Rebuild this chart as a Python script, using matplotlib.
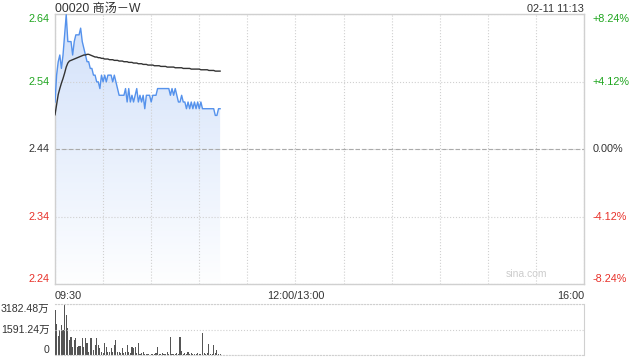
import numpy as np
import matplotlib
matplotlib.use('Agg')
import matplotlib.pyplot as plt

plt.rcParams['font.family'] = ['Liberation Sans', 'Noto Sans CJK SC', 'DejaVu Sans']

# intraday data, one point per minute from 09:30
prev_close = 2.44
price = [2.51, 2.55, 2.57, 2.58, 2.56, 2.58, 2.61, 2.64, 2.60, 2.60,
         2.60, 2.58, 2.60, 2.61, 2.61, 2.61, 2.62, 2.60, 2.59, 2.58,
         2.57, 2.57, 2.56, 2.56, 2.55, 2.55, 2.54, 2.54, 2.53, 2.55,
         2.54, 2.55, 2.54, 2.55, 2.55, 2.55, 2.54, 2.55, 2.54, 2.53,
         2.52, 2.52, 2.52, 2.52, 2.53, 2.51, 2.53, 2.51, 2.52, 2.51,
         2.52, 2.53, 2.51, 2.52, 2.51, 2.52, 2.50, 2.52, 2.52, 2.52,
         2.51, 2.52, 2.52, 2.52, 2.53, 2.53, 2.53, 2.53, 2.53, 2.53,
         2.53, 2.53, 2.52, 2.53, 2.52, 2.53, 2.52, 2.51, 2.51, 2.52,
         2.51, 2.51, 2.50, 2.51, 2.50, 2.51, 2.50, 2.51, 2.50, 2.51,
         2.50, 2.51, 2.50, 2.50, 2.50, 2.50, 2.50, 2.50, 2.50, 2.50,
         2.49, 2.49, 2.50, 2.50]
avg_price = [2.491, 2.506, 2.521, 2.530, 2.538, 2.545, 2.553, 2.562, 2.568, 2.571,
             2.572, 2.573, 2.574, 2.575, 2.576, 2.577, 2.578, 2.579, 2.580, 2.580,
             2.581, 2.581, 2.580, 2.579, 2.578, 2.577, 2.577, 2.576, 2.576, 2.575,
             2.575, 2.574, 2.574, 2.574, 2.573, 2.573, 2.573, 2.572, 2.572, 2.572,
             2.571, 2.571, 2.571, 2.570, 2.570, 2.570, 2.569, 2.569, 2.569, 2.568,
             2.568, 2.568, 2.567, 2.567, 2.567, 2.566, 2.566, 2.566, 2.565, 2.565,
             2.565, 2.565, 2.564, 2.564, 2.564, 2.564, 2.563, 2.563, 2.563, 2.563,
             2.562, 2.562, 2.562, 2.562, 2.562, 2.561, 2.561, 2.561, 2.561, 2.561,
             2.560, 2.560, 2.560, 2.560, 2.560, 2.559, 2.559, 2.559, 2.559, 2.559,
             2.559, 2.558, 2.558, 2.558, 2.558, 2.558, 2.557, 2.557, 2.557, 2.557,
             2.556, 2.556, 2.556, 2.556]
# volume in 万
volume = [2830, 1950, 1200, 1570, 1880, 1570, 3182.48, 2510, 1690, 940,
          1130, 500, 940, 1070, 500, 570, 570, 1070, 500, 1070,
          750, 190, 1070, 1070, 310, 630, 1070, 630, 440, 190,
          130, 750, 500, 190, 190, 440, 190, 630, 940, 190,
          190, 130, 440, 130, 160, 630, 190, 130, 500, 440,
          500, 130, 750, 60, 100, 200, 60, 40, 60, 30,
          60, 90, 60, 120, 520, 60, 40, 100, 60, 40,
          160, 60, 1150, 80, 60, 40, 100, 60, 1150, 250,
          60, 120, 80, 160, 60, 120, 60, 80, 60, 120,
          60, 80, 1360, 120, 60, 100, 700, 80, 60, 630,
          120, 320, 80, 60]
pct_levels = [8.24, 4.12, 0.0, -4.12, -8.24]
time_labels = ['09:30', '', '', '', '', '12:00/13:00', '', '', '', '', '', '16:00']
vol_max = 3182.48

title = '00020 商汤－W'
stamp = '02-11 11:13'

GREEN = '#1fa51f'
RED = '#e8312a'
GRID = '#d0d0d0'
TXT = '#333333'
FS = 7.8

minutes = np.arange(len(price))
levels = [prev_close * (1 + p / 100) for p in pct_levels]
ylo, yhi = levels[-1], levels[0]

fig = plt.figure(figsize=(6.4, 3.6), dpi=100)
ax = fig.add_axes([55 / 640, 76 / 360, 529 / 640, 270 / 360])

# gradient fill under price line
fill = ax.fill_between(minutes, price, ylo, facecolor='none', edgecolor='none')
top_c = np.array([0.82, 0.88, 0.98])
bot_c = np.array([0.995, 0.997, 1.0])
t = np.linspace(0, 1, 256)[:, None]
grad = (bot_c * (1 - t) + top_c * t)[:, None, :]
img = ax.imshow(grad, extent=[0, minutes[-1], ylo, max(price)], aspect='auto',
                origin='lower', zorder=1, interpolation='bilinear')
img.set_clip_path(fill.get_paths()[0], ax.transData)

ax.plot(minutes, price, color='#5592ec', lw=1, zorder=3)
ax.plot(minutes, avg_price, color='#333333', lw=1, zorder=3)

ax.set_xlim(0, 330)
ax.set_ylim(ylo, yhi)
ax.set_xticks(np.arange(0, 331, 30))
ax.set_xticklabels(time_labels, fontsize=FS, color=TXT)
for lab, ha in zip(ax.get_xticklabels(), ['left'] + ['center'] * 10 + ['right']):
    lab.set_ha(ha)
ax.set_yticks(levels)
ax.set_yticklabels(['%.2f' % v for v in levels], fontsize=FS)
colors = [GREEN, GREEN, TXT, RED, RED]
vas = ['top', 'center', 'center', 'center', 'bottom']
for lab, c, va in zip(ax.get_yticklabels(), colors, vas):
    lab.set_color(c)
    lab.set_va(va)
ax.tick_params(length=0, pad=4)
ax.tick_params(axis='x', pad=5)
ax.grid(True, linestyle=':', color=GRID, lw=0.8)
ax.axhline(prev_close, color='#aaaaaa', lw=0.8, ls=(0, (4, 2)), zorder=2)
for s in ax.spines.values():
    s.set_color(GRID)
    s.set_linewidth(1)

axr = ax.twinx()
axr.set_ylim(ylo, yhi)
axr.set_yticks(levels)
axr.set_yticklabels(['%+.2f%%' % p if p != 0 else '0.00%' for p in pct_levels], fontsize=FS)
for lab, c, va in zip(axr.get_yticklabels(), colors, vas):
    lab.set_color(c)
    lab.set_va(va)
axr.tick_params(length=0, pad=6)
for s in axr.spines.values():
    s.set_visible(False)

fig.text(55 / 640, 1 - 12 / 360, title, fontsize=8.7, color=TXT, va='baseline', ha='left')
fig.text(584 / 640, 1 - 12 / 360, stamp, fontsize=FS, color=TXT, va='baseline', ha='right')
ax.text(0.93, 0.018, 'sina.com', transform=ax.transAxes, fontsize=7.5, color='#cccccc', va='bottom', ha='right')

# volume panel
ax2 = fig.add_axes([55 / 640, 5 / 360, 529 / 640, 51 / 360])
ax2.bar(minutes, volume, width=0.7, color='#555555', linewidth=0)
ax2.set_xlim(0, 330)
ax2.set_ylim(0, vol_max)
ax2.set_xticks([])
ax2.set_yticks([0, vol_max / 2, vol_max])
ax2.set_yticklabels(['0', '%.2f万' % (vol_max / 2), '%.2f万' % vol_max], fontsize=7.6, color=TXT)
for lab, va in zip(ax2.get_yticklabels(), ['bottom', 'center', 'top']):
    lab.set_va(va)
ax2.tick_params(length=0, pad=4)
ax2.grid(True, axis='y', linestyle=':', color=GRID, lw=0.8)
for k, s in ax2.spines.items():
    s.set_color(GRID)
    if k in ('top', 'bottom'):
        s.set_linestyle(':')
ax2.spines['left'].set_visible(False)

fig.savefig('out.png', dpi=100)
